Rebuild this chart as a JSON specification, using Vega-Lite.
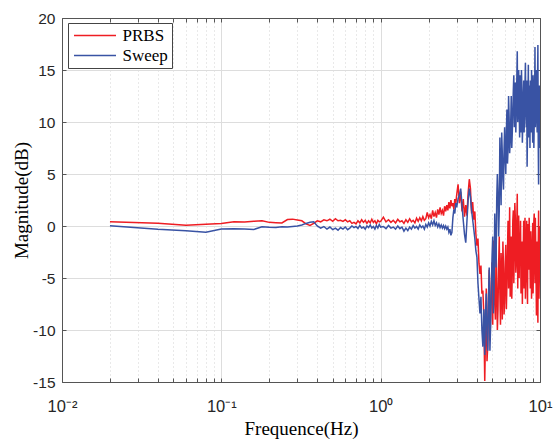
{
 "$schema": "https://vega.github.io/schema/vega-lite/v6.json",
 "width": 478,
 "height": 364,
 "autosize": {"type": "none"},
 "padding": {"left": 62, "top": 18, "right": 13, "bottom": 57},
 "background": "white",
 "config": {"view": {"stroke": null}},
 "datasets": {
  "prbs": [
   {"f":0.02,"v":0.41},{"f":0.04,"v":0.26},{"f":0.06,"v":0.07},{"f":0.08,"v":0.18},{"f":0.1,"v":0.25},{"f":0.12,"v":0.41},{"f":0.14,"v":0.38},{"f":0.16,"v":0.45},{"f":0.18,"v":0.5},{"f":0.2,"v":0.35},{"f":0.22,"v":0.32},{"f":0.24,"v":0.3},{"f":0.26,"v":0.62},{"f":0.28,"v":0.66},{"f":0.3,"v":0.58},
   {"f":0.32,"v":0.5},{"f":0.34,"v":0.2},{"f":0.36,"v":0.05},{"f":0.38,"v":0.26},{"f":0.4,"v":0.5},{"f":0.42,"v":0.4},{"f":0.44,"v":0.6},{"f":0.46,"v":0.5},{"f":0.48,"v":0.65},{"f":0.5,"v":0.45},{"f":0.52,"v":0.7},{"f":0.54,"v":0.5},{"f":0.56,"v":0.55},{"f":0.58,"v":0.45},{"f":0.6,"v":0.6},{"f":0.62,"v":0.4},{"f":0.64,"v":0.5},{"f":0.66,"v":0.25},{"f":0.68,"v":0.35},{"f":0.7,"v":0.2},{"f":0.72,"v":0.5},{"f":0.74,"v":0.3},{"f":0.76,"v":0.6},{"f":0.78,"v":0.35},{"f":0.8,"v":0.55},{"f":0.82,"v":0.25},{"f":0.84,"v":0.5},{"f":0.86,"v":0.3},{"f":0.88,"v":0.65},{"f":0.9,"v":0.35},{"f":0.92,"v":0.5},{"f":0.94,"v":0.2},{"f":0.96,"v":0.55},{"f":0.98,"v":0.4},{"f":1.0,"v":0.45},
   {"f":1.04,"v":0.85},{"f":1.08,"v":0.4},{"f":1.12,"v":0.6},{"f":1.16,"v":0.35},{"f":1.2,"v":0.55},{"f":1.24,"v":0.3},{"f":1.28,"v":0.65},{"f":1.32,"v":0.4},{"f":1.36,"v":0.5},{"f":1.4,"v":0.25},{"f":1.44,"v":0.6},{"f":1.48,"v":0.35},{"f":1.52,"v":0.7},{"f":1.56,"v":0.4},{"f":1.6,"v":0.55},{"f":1.64,"v":0.3},{"f":1.68,"v":0.75},{"f":1.72,"v":0.45},{"f":1.76,"v":0.8},{"f":1.8,"v":0.5},{"f":1.84,"v":0.9},{"f":1.88,"v":0.55},{"f":1.92,"v":0.7},{"f":1.96,"v":1.3},{"f":2.0,"v":0.8},{"f":2.04,"v":1.1},{"f":2.08,"v":0.7},{"f":2.12,"v":1.5},{"f":2.16,"v":0.9},{"f":2.2,"v":1.3},{"f":2.24,"v":0.8},{"f":2.28,"v":1.6},{"f":2.32,"v":1.1},{"f":2.36,"v":1.8},{"f":2.4,"v":1.2},{"f":2.44,"v":1.5},{"f":2.48,"v":1.0},{"f":2.52,"v":1.9},{"f":2.56,"v":1.4},{"f":2.6,"v":2.0},{"f":2.64,"v":1.5},{"f":2.68,"v":2.3},{"f":2.72,"v":1.7},{"f":2.76,"v":2.5},{"f":2.8,"v":1.9},{"f":2.84,"v":2.2},{"f":2.88,"v":1.6},{"f":2.92,"v":2.6},{"f":2.96,"v":2.1},{"f":3.0,"v":3.0},
   {"f":3.06,"v":4.0},{"f":3.12,"v":2.2},{"f":3.18,"v":3.3},{"f":3.24,"v":1.4},{"f":3.3,"v":2.6},{"f":3.36,"v":0.9},{"f":3.42,"v":2.0},{"f":3.48,"v":1.0},{"f":3.54,"v":3.2},{"f":3.6,"v":4.5},{"f":3.66,"v":3.6},{"f":3.72,"v":1.2},{"f":3.78,"v":2.3},{"f":3.84,"v":0.6},{"f":3.9,"v":1.4},{"f":3.96,"v":-0.8},{"f":4.02,"v":-1.9},{"f":4.08,"v":-1.2},{"f":4.14,"v":-3.6},{"f":4.2,"v":-4.6},{"f":4.26,"v":-3.8},{"f":4.32,"v":-6.5},{"f":4.38,"v":-6.2},{"f":4.44,"v":-8.4},{"f":4.5,"v":-14.9},
   {"f":4.6,"v":-6.0},{"f":4.7,"v":-11.5},{"f":4.8,"v":-4.2},{"f":4.9,"v":-8.8},{"f":5.0,"v":-3.5},{"f":5.1,"v":-1.4},{"f":5.2,"v":-7.5},{"f":5.3,"v":-2.0},{"f":5.4,"v":-10.0},{"f":5.5,"v":-3.8},{"f":5.6,"v":-6.5},{"f":5.7,"v":-2.6},{"f":5.8,"v":-9.0},{"f":5.9,"v":-4.0},{"f":6.0,"v":-7.2},{"f":6.1,"v":-1.8},{"f":6.2,"v":-5.5},{"f":6.3,"v":0.5},{"f":6.4,"v":-3.0},{"f":6.5,"v":-6.8},{"f":6.6,"v":-1.0},{"f":6.7,"v":-4.5},{"f":6.8,"v":1.5},{"f":6.9,"v":-2.5},{"f":7.0,"v":0.8},{"f":7.1,"v":-3.5},{"f":7.2,"v":3.1},{"f":7.3,"v":-1.0},{"f":7.4,"v":-5.0},{"f":7.5,"v":-2.0},{"f":7.6,"v":-6.5},{"f":7.7,"v":-1.5},{"f":7.8,"v":-4.0},{"f":7.9,"v":0.5},{"f":8.0,"v":-3.0},{"f":8.1,"v":-7.0},{"f":8.2,"v":-2.2},{"f":8.3,"v":-5.0},{"f":8.4,"v":0.2},{"f":8.5,"v":-4.2},{"f":8.6,"v":-1.0},{"f":8.7,"v":-6.0},{"f":8.8,"v":-2.5},{"f":8.9,"v":-4.8},{"f":9.0,"v":0.3},{"f":9.1,"v":-3.5},{"f":9.2,"v":1.2},{"f":9.3,"v":-5.5},{"f":9.4,"v":-2.0},{"f":9.5,"v":-8.6},{"f":9.6,"v":-1.5},{"f":9.7,"v":-9.3},{"f":9.8,"v":1.5},{"f":9.9,"v":-5.0},{"f":10.0,"v":-3.0},
   {"f":4.55,"v":-10.5},{"f":4.65,"v":-13.0},{"f":4.75,"v":-7.0},{"f":4.85,"v":-11.0},{"f":4.95,"v":-5.5},{"f":5.05,"v":-9.5},{"f":5.15,"v":-4.0},{"f":5.25,"v":-9.0},{"f":5.35,"v":-5.5},{"f":5.45,"v":-8.0},{"f":5.55,"v":-1.0},{"f":5.65,"v":-9.5},{"f":5.75,"v":-5.0},{"f":5.85,"v":-1.5},{"f":5.95,"v":-8.5},{"f":6.05,"v":-3.5},{"f":6.15,"v":-8.0},{"f":6.25,"v":-2.5},{"f":6.35,"v":-6.0},{"f":6.45,"v":1.8},{"f":6.55,"v":-3.0},{"f":6.65,"v":-7.0},{"f":6.75,"v":0.5},{"f":6.85,"v":-5.5},{"f":6.95,"v":2.2},{"f":7.05,"v":-4.5},{"f":7.15,"v":0.0},{"f":7.25,"v":-6.0},{"f":7.35,"v":1.0},{"f":7.45,"v":-1.5},{"f":7.55,"v":0.5},{"f":7.65,"v":-4.0},{"f":7.75,"v":-7.5},{"f":7.85,"v":-2.5},{"f":7.95,"v":-6.0},{"f":8.05,"v":0.8},{"f":8.15,"v":-4.0},{"f":8.25,"v":0.5},{"f":8.35,"v":-7.5},{"f":8.45,"v":-3.0},{"f":8.55,"v":0.8},{"f":8.65,"v":-3.5},{"f":8.75,"v":-0.5},{"f":8.85,"v":-7.0},{"f":8.95,"v":-2.0},{"f":9.05,"v":-6.5},{"f":9.15,"v":0.5},{"f":9.25,"v":-3.0},{"f":9.35,"v":0.8},{"f":9.45,"v":-5.0},{"f":9.55,"v":-3.0},{"f":9.65,"v":-6.5},{"f":9.75,"v":-2.0},{"f":9.85,"v":-7.0},{"f":9.95,"v":0.0}
  ],
  "sweep": [
   {"f":0.02,"v":0.03},{"f":0.04,"v":-0.32},{"f":0.06,"v":-0.45},{"f":0.08,"v":-0.6},{"f":0.1,"v":-0.28},{"f":0.12,"v":-0.27},{"f":0.14,"v":-0.3},{"f":0.16,"v":-0.33},{"f":0.18,"v":-0.08},{"f":0.2,"v":-0.12},{"f":0.22,"v":-0.14},{"f":0.24,"v":-0.08},{"f":0.26,"v":-0.1},{"f":0.28,"v":-0.05},{"f":0.3,"v":0.0},
   {"f":0.32,"v":0.1},{"f":0.34,"v":0.25},{"f":0.36,"v":0.35},{"f":0.38,"v":0.4},{"f":0.4,"v":0.0},{"f":0.42,"v":-0.2},{"f":0.44,"v":-0.05},{"f":0.46,"v":-0.3},{"f":0.48,"v":-0.1},{"f":0.5,"v":-0.35},{"f":0.52,"v":-0.2},{"f":0.54,"v":-0.4},{"f":0.56,"v":-0.15},{"f":0.58,"v":-0.3},{"f":0.6,"v":-0.1},{"f":0.62,"v":-0.35},{"f":0.64,"v":-0.2},{"f":0.66,"v":0.0},{"f":0.68,"v":-0.15},{"f":0.7,"v":-0.05},{"f":0.72,"v":-0.25},{"f":0.74,"v":0.05},{"f":0.76,"v":-0.2},{"f":0.78,"v":-0.1},{"f":0.8,"v":-0.3},{"f":0.82,"v":0.0},{"f":0.84,"v":-0.15},{"f":0.86,"v":0.1},{"f":0.88,"v":-0.2},{"f":0.9,"v":-0.05},{"f":0.92,"v":-0.3},{"f":0.94,"v":0.05},{"f":0.96,"v":-0.2},{"f":0.98,"v":0.15},{"f":1.0,"v":-0.1},
   {"f":1.04,"v":-0.05},{"f":1.08,"v":-0.25},{"f":1.12,"v":0.05},{"f":1.16,"v":-0.2},{"f":1.2,"v":-0.1},{"f":1.24,"v":-0.3},{"f":1.28,"v":0.0},{"f":1.32,"v":-0.25},{"f":1.36,"v":-0.1},{"f":1.4,"v":-0.5},{"f":1.44,"v":-0.2},{"f":1.48,"v":-0.45},{"f":1.52,"v":-0.1},{"f":1.56,"v":-0.3},{"f":1.6,"v":0.05},{"f":1.64,"v":-0.2},{"f":1.68,"v":-0.05},{"f":1.72,"v":-0.3},{"f":1.76,"v":0.1},{"f":1.8,"v":-0.15},{"f":1.84,"v":0.0},{"f":1.88,"v":-0.3},{"f":1.92,"v":0.15},{"f":1.96,"v":-0.1},{"f":2.0,"v":0.3},{"f":2.04,"v":0.0},{"f":2.08,"v":0.45},{"f":2.12,"v":0.1},{"f":2.16,"v":0.5},{"f":2.2,"v":0.05},{"f":2.24,"v":0.3},{"f":2.28,"v":-0.1},{"f":2.32,"v":0.2},{"f":2.36,"v":-0.15},{"f":2.4,"v":0.1},{"f":2.44,"v":-0.2},{"f":2.48,"v":0.05},{"f":2.52,"v":-0.25},{"f":2.56,"v":0.0},{"f":2.6,"v":-0.3},{"f":2.64,"v":-0.1},{"f":2.68,"v":-0.6},{"f":2.72,"v":-0.3},{"f":2.76,"v":-0.9},{"f":2.8,"v":-0.6},{"f":2.84,"v":0.8},{"f":2.88,"v":1.6},{"f":2.92,"v":1.2},{"f":2.96,"v":2.2},{"f":3.0,"v":1.8},
   {"f":3.06,"v":2.6},{"f":3.12,"v":3.0},{"f":3.18,"v":3.6},{"f":3.24,"v":2.0},{"f":3.3,"v":0.5},{"f":3.36,"v":-0.8},{"f":3.42,"v":-1.6},{"f":3.48,"v":0.5},{"f":3.54,"v":2.5},{"f":3.6,"v":3.6},{"f":3.66,"v":2.8},{"f":3.72,"v":1.5},{"f":3.78,"v":0.6},{"f":3.84,"v":-0.3},{"f":3.9,"v":-1.2},{"f":3.96,"v":-2.4},{"f":4.02,"v":-3.0},{"f":4.08,"v":-5.5},{"f":4.14,"v":-7.0},{"f":4.2,"v":-8.4},{"f":4.26,"v":-6.8},{"f":4.32,"v":-10.0},{"f":4.38,"v":-11.6},{"f":4.44,"v":-8.0},{"f":4.5,"v":-12.4},
   {"f":4.6,"v":-6.5},{"f":4.7,"v":-12.0},{"f":4.8,"v":-4.0},{"f":4.9,"v":-9.5},{"f":5.0,"v":-3.0},{"f":5.1,"v":-8.4},{"f":5.2,"v":1.2},{"f":5.3,"v":-4.0},{"f":5.4,"v":5.0},{"f":5.5,"v":-1.0},{"f":5.6,"v":8.5},{"f":5.7,"v":2.0},{"f":5.8,"v":7.0},{"f":5.9,"v":3.5},{"f":6.0,"v":9.5},{"f":6.1,"v":5.0},{"f":6.2,"v":11.2},{"f":6.3,"v":7.3},{"f":6.4,"v":10.5},{"f":6.5,"v":8.0},{"f":6.6,"v":12.5},{"f":6.7,"v":9.0},{"f":6.8,"v":13.0},{"f":6.9,"v":9.5},{"f":7.0,"v":13.8},{"f":7.1,"v":11.0},{"f":7.2,"v":16.8},{"f":7.3,"v":12.0},{"f":7.4,"v":11.5},{"f":7.5,"v":14.5},{"f":7.6,"v":9.0},{"f":7.7,"v":13.0},{"f":7.8,"v":10.0},{"f":7.9,"v":14.0},{"f":8.0,"v":11.0},{"f":8.1,"v":15.7},{"f":8.2,"v":9.5},{"f":8.3,"v":5.7},{"f":8.4,"v":12.0},{"f":8.5,"v":8.5},{"f":8.6,"v":13.5},{"f":8.7,"v":14.0},{"f":8.8,"v":9.0},{"f":8.9,"v":12.5},{"f":9.0,"v":8.0},{"f":9.1,"v":13.0},{"f":9.2,"v":10.0},{"f":9.3,"v":17.2},{"f":9.4,"v":11.0},{"f":9.5,"v":13.0},{"f":9.6,"v":9.0},{"f":9.7,"v":17.4},{"f":9.8,"v":4.0},{"f":9.9,"v":13.5},{"f":10.0,"v":11.0},
   {"f":4.55,"v":-8.5},{"f":4.65,"v":-10.5},{"f":4.75,"v":-7.0},{"f":4.85,"v":-12.0},{"f":4.95,"v":-6.0},{"f":5.05,"v":-1.0},{"f":5.15,"v":-6.0},{"f":5.25,"v":-2.0},{"f":5.35,"v":2.5},{"f":5.45,"v":3.0},{"f":5.55,"v":1.5},{"f":5.65,"v":5.0},{"f":5.75,"v":9.0},{"f":5.85,"v":4.5},{"f":5.95,"v":7.5},{"f":6.05,"v":6.5},{"f":6.15,"v":9.0},{"f":6.25,"v":6.0},{"f":6.35,"v":12.5},{"f":6.45,"v":7.0},{"f":6.55,"v":10.0},{"f":6.65,"v":7.5},{"f":6.75,"v":11.0},{"f":6.85,"v":14.5},{"f":6.95,"v":11.5},{"f":7.05,"v":9.0},{"f":7.15,"v":14.0},{"f":7.25,"v":10.0},{"f":7.35,"v":15.0},{"f":7.45,"v":8.5},{"f":7.55,"v":11.5},{"f":7.65,"v":15.0},{"f":7.75,"v":8.0},{"f":7.85,"v":12.0},{"f":7.95,"v":9.0},{"f":8.05,"v":13.5},{"f":8.15,"v":11.0},{"f":8.25,"v":14.0},{"f":8.35,"v":9.0},{"f":8.45,"v":15.5},{"f":8.55,"v":10.5},{"f":8.65,"v":7.5},{"f":8.75,"v":11.5},{"f":8.85,"v":15.0},{"f":8.95,"v":10.0},{"f":9.05,"v":14.5},{"f":9.15,"v":7.5},{"f":9.25,"v":12.5},{"f":9.35,"v":9.5},{"f":9.45,"v":15.0},{"f":9.55,"v":10.5},{"f":9.65,"v":14.0},{"f":9.75,"v":8.0},{"f":9.85,"v":12.0},{"f":9.95,"v":7.5}
  ]
 },
 "layer": [
  {
   "data": {"name": "prbs"},
   "mark": {"type": "line", "strokeWidth": 1.5, "clip": true},
   "encoding": {
    "x": {"field": "f", "type": "quantitative",
     "scale": {"type": "log", "domain": [0.01, 10], "nice": false},
     "axis": {"orient": "bottom",
      "values": [0.01,0.02,0.03,0.04,0.05,0.06,0.07,0.08,0.09,0.1,0.2,0.3,0.4,0.5,0.6,0.7,0.8,0.9,1,2,3,4,5,6,7,8,9,10],
      "labelExpr": "datum.value==0.01?'10⁻²':datum.value==0.1?'10⁻¹':datum.value==1?'10⁰':datum.value==10?'10¹':''",
      "labelOverlap": false, "labelFlush": false,
      "labelFont": "Liberation Sans", "labelFontSize": 16.5, "labelColor": "#262626", "labelPadding": 20,
      "ticks": true, "tickSize": -4, "tickColor": "#555", "tickWidth": 1,
      "domain": true, "domainColor": "#555", "domainWidth": 1,
      "grid": true,
      "gridColor": {"condition": {"test": "datum.value==0.01||datum.value==0.1||datum.value==1||datum.value==10", "value": "#dddddd"}, "value": "#d2d2d2"},
      "gridDash": {"condition": {"test": "datum.value==0.01||datum.value==0.1||datum.value==1||datum.value==10", "value": []}, "value": [1, 3]},
      "title": "Frequence(Hz)", "titleFont": "Liberation Serif", "titleFontSize": 19, "titleFontWeight": "normal", "titleColor": "#000",
      "titleX": 239, "titleY": 52, "titleBaseline": "alphabetic", "titleAlign": "center"}
    },
    "y": {"field": "v", "type": "quantitative",
     "scale": {"domain": [-15, 20], "nice": false, "zero": false},
     "axis": {"orient": "left",
      "values": [-15,-10,-5,0,5,10,15,20],
      "labelExpr": "''+datum.value",
      "labelFont": "Liberation Sans", "labelFontSize": 15.5, "labelColor": "#262626", "labelPadding": 11,
      "ticks": true, "tickSize": -4, "tickColor": "#555",
      "domain": true, "domainColor": "#555",
      "grid": true, "gridColor": "#dddddd",
      "title": "Magnitude(dB)", "titleFont": "Liberation Serif", "titleFontSize": 19, "titleFontWeight": "normal", "titleColor": "#000",
      "titleX": -35, "titleY": 182, "titleAngle": 270, "titleBaseline": "alphabetic", "titleAlign": "center"}
    },
    "color": {"datum": "PRBS", "type": "nominal",
     "scale": {"domain": ["PRBS", "Sweep"], "range": ["#EE1D23", "#3953A4"]},
     "legend": {"orient": "none", "legendX": 6, "legendY": 5, "title": null,
      "symbolType": "stroke", "symbolSize": 1764, "symbolStrokeWidth": 1.4,
      "labelFont": "Liberation Serif", "labelFontSize": 17, "labelColor": "#000",
      "strokeColor": "#444", "fillColor": "white", "padding": 3.5, "rowPadding": 2,
      "clipHeight": 18, "labelOffset": 5.5, "symbolOffset": 1.5}
    }
   }
  },
  {
   "data": {"name": "sweep"},
   "mark": {"type": "line", "strokeWidth": 1.5, "clip": true},
   "encoding": {
    "x": {"field": "f", "type": "quantitative",
     "scale": {"type": "log", "domain": [0.01, 10], "nice": false},
     "axis": {"orient": "top",
      "values": [0.01,0.02,0.03,0.04,0.05,0.06,0.07,0.08,0.09,0.1,0.2,0.3,0.4,0.5,0.6,0.7,0.8,0.9,1,2,3,4,5,6,7,8,9,10],
      "labels": false, "grid": false, "ticks": true, "tickSize": -4, "tickColor": "#555",
      "domain": true, "domainColor": "#555", "title": null}
    },
    "y": {"field": "v", "type": "quantitative",
     "scale": {"domain": [-15, 20], "nice": false, "zero": false},
     "axis": {"orient": "right", "values": [-15,-10,-5,0,5,10,15,20],
      "labels": false, "grid": false, "ticks": true, "tickSize": -4, "tickColor": "#555",
      "domain": true, "domainColor": "#555", "title": null}
    },
    "color": {"datum": "Sweep", "type": "nominal"}
   }
  }
 ],
 "resolve": {"axis": {"x": "independent", "y": "independent"}}
}
